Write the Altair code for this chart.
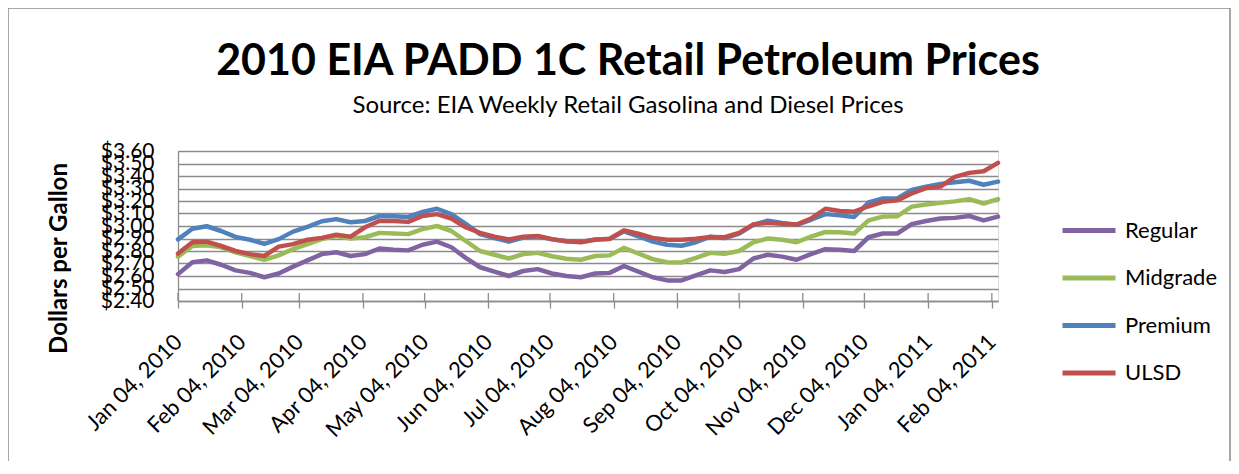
import altair as alt
import pandas as pd

# ---- data ----
SERIES = ["Regular", "Midgrade", "Premium", "ULSD"]
COLORS = ["#8064A2", "#9BBB59", "#4F81BD", "#C0504D"]
FIRST_WEEK = "2010-01-04"
N_WEEKS = 58

regular = [2.615, 2.71, 2.725, 2.69, 2.645, 2.625, 2.59, 2.62, 2.675, 2.725,
           2.775, 2.79, 2.76, 2.775, 2.82, 2.81, 2.805, 2.85, 2.875, 2.83,
           2.745, 2.67, 2.635, 2.60, 2.64, 2.655, 2.62, 2.60, 2.59, 2.62,
           2.625, 2.68, 2.635, 2.59, 2.565, 2.565, 2.605, 2.645, 2.632, 2.655,
           2.74, 2.77, 2.755, 2.73, 2.775, 2.815, 2.81, 2.80, 2.91, 2.94,
           2.94, 3.015, 3.04, 3.06, 3.065, 3.08, 3.045, 3.075]
midgrade = [2.755, 2.84, 2.845, 2.83, 2.79, 2.76, 2.73, 2.765, 2.815, 2.855,
            2.895, 2.92, 2.90, 2.91, 2.945, 2.94, 2.935, 2.975, 3.00, 2.96,
            2.88, 2.80, 2.77, 2.74, 2.775, 2.785, 2.758, 2.738, 2.73, 2.76,
            2.765, 2.825, 2.78, 2.735, 2.71, 2.708, 2.745, 2.785, 2.778, 2.80,
            2.87, 2.90, 2.89, 2.87, 2.915, 2.952, 2.95, 2.94, 3.045, 3.075,
            3.078, 3.155, 3.172, 3.185, 3.197, 3.215, 3.18, 3.215]
premium = [2.893, 2.978, 2.998, 2.96, 2.913, 2.89, 2.857, 2.895, 2.955, 2.993,
           3.038, 3.055, 3.03, 3.04, 3.08, 3.078, 3.072, 3.112, 3.138, 3.095,
           3.018, 2.935, 2.903, 2.875, 2.908, 2.918, 2.893, 2.878, 2.873, 2.893,
           2.895, 2.958, 2.918, 2.875, 2.85, 2.842, 2.87, 2.915, 2.903, 2.94,
           3.01, 3.043, 3.025, 3.01, 3.05, 3.095, 3.085, 3.072, 3.188, 3.22,
           3.22, 3.288, 3.315, 3.337, 3.35, 3.362, 3.33, 3.355]
ulsd = [2.78, 2.87, 2.875, 2.84, 2.80, 2.775, 2.76, 2.835, 2.855, 2.89,
        2.905, 2.93, 2.915, 2.99, 3.04, 3.04, 3.033, 3.08, 3.095, 3.06,
        2.99, 2.945, 2.915, 2.893, 2.915, 2.92, 2.895, 2.878, 2.87, 2.89,
        2.898, 2.965, 2.938, 2.905, 2.89, 2.89, 2.898, 2.912, 2.91, 2.945,
        3.013, 3.025, 3.018, 3.012, 3.06, 3.138, 3.12, 3.115, 3.158, 3.193,
        3.205, 3.26, 3.303, 3.315, 3.393, 3.425, 3.438, 3.505]

Y_TICKS = [2.40, 2.50, 2.60, 2.70, 2.80, 2.90, 3.00, 3.10, 3.20, 3.30, 3.40, 3.50, 3.60]
X_TICKS = ["2010-01-04", "2010-02-04", "2010-03-04", "2010-04-04", "2010-05-04",
           "2010-06-04", "2010-07-04", "2010-08-04", "2010-09-04", "2010-10-04",
           "2010-11-04", "2010-12-04", "2011-01-04", "2011-02-04"]

weeks = pd.date_range(FIRST_WEEK, periods=N_WEEKS, freq="7D").strftime("%Y-%m-%dT00:00:00").tolist()
rows = []
for name, vals in zip(SERIES, [regular, midgrade, premium, ulsd]):
    for d, v in zip(weeks, vals):
        rows.append({"date": d, "series": name, "price": v})
df = pd.DataFrame(rows)


def dt(s):
    y, m, d = (int(p) for p in s.split("-"))
    return alt.DateTime(year=y, month=m, date=d)


FONT = "Lato"
GRID = "#8c8c8c"
W, H = 820, 150

x_scale = alt.Scale(domain=[dt("2010-01-04"), dt("2011-02-07")], nice=False)
y_scale = alt.Scale(domain=[2.40, 3.60], nice=False, zero=False)
color_scale = alt.Scale(domain=SERIES, range=COLORS)

x_axis = alt.Axis(values=[dt(s) for s in X_TICKS], format="%b %d, %Y", labelAngle=-45,
                  labelAlign="right", labelBaseline="middle", labelFontSize=22,
                  labelFont=FONT, labelColor="black", tickSize=7, tickColor=GRID,
                  tickWidth=1.3, domainColor=GRID, domainWidth=1.3, grid=False,
                  labelPadding=30, title=None, labelOverlap=False, labelFlush=False,
                  labelBound=False)
y_axis = alt.Axis(values=Y_TICKS, format="$.2f", labelFontSize=21, labelFont=FONT,
                  labelColor="black", labelOverlap=False, labelFlush=False,
                  grid=True, gridColor=GRID, gridWidth=1.3, domainColor=GRID,
                  domainWidth=1.3, ticks=False, labelPadding=24,
                  title="Dollars per Gallon", titleFont=FONT, titleFontSize=24,
                  titleFontWeight="bold", titleColor="black", titleX=-119, titleY=107,
                  titleAlign="center", titleBaseline="middle", titleAngle=270)

legend = alt.Legend(title=None, orient="none", legendX=882, legendY=67,
                    symbolType="stroke", symbolSize=2809, symbolStrokeWidth=5,
                    labelFontSize=22, labelFont=FONT, labelColor="black",
                    labelOffset=7, rowPadding=22.5, clipHeight=25, padding=0)

layers = []
frame = alt.Chart(alt.Data(values=[{"k": 1}])).mark_rect(
    fillOpacity=0, stroke="#8a8a8a", strokeWidth=1.5
).encode(x=alt.value(-170), x2=alt.value(1052), y=alt.value(-143), y2=alt.value(340))
layers.append(frame)

inner_ticks = alt.Chart(pd.DataFrame({"date": [s + "T00:00:00" for s in X_TICKS]})).mark_rule(
    color=GRID, strokeWidth=1.3
).encode(x=alt.X("date:T", scale=x_scale, axis=x_axis), y=alt.value(H - 8), y2=alt.value(H))
layers.append(inner_ticks)

for i, name in enumerate(SERIES):
    layer = alt.Chart(df).transform_filter(alt.datum.series == name).mark_line(
        strokeWidth=4.5, strokeCap="round", strokeJoin="round"
    ).encode(
        x=alt.X("date:T", scale=x_scale, axis=x_axis),
        y=alt.Y("price:Q", scale=y_scale, axis=y_axis),
        color=alt.Color("series:N", scale=color_scale, legend=legend if i == 0 else None),
    )
    layers.append(layer)

chart = alt.layer(*layers).properties(
    width=W, height=H,
    autosize=alt.AutoSizeParams(type="none"),
    padding={"left": 170, "top": 143, "right": 233, "bottom": 160},
    title=alt.TitleParams(
        text="2010 EIA PADD 1C Retail Petroleum Prices",
        subtitle="Source: EIA Weekly Retail Gasolina and Diesel Prices",
        font=FONT, fontSize=43, fontWeight="bold", color="black",
        subtitleFont=FONT, subtitleFontSize=24, subtitleColor="black",
        subtitlePadding=10, anchor="middle", dx=40, offset=-111,
    ),
).configure_view(stroke=None).configure(background="white")

chart.save("out.html", embed_options={"renderer": "svg", "actions": False})
